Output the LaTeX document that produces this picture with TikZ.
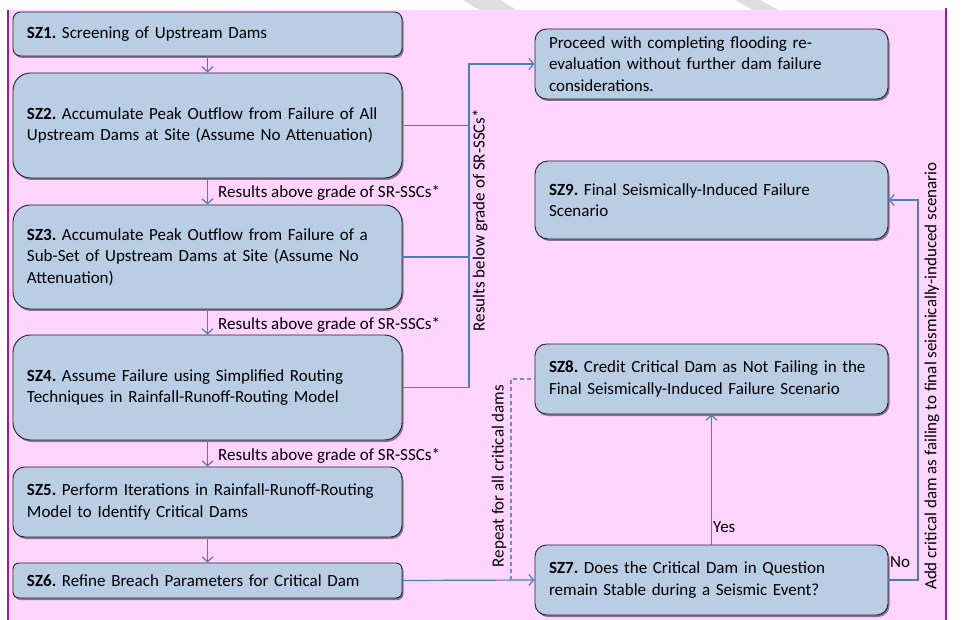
\documentclass[tikz,border=0pt]{standalone}
\usepackage{fontspec}
\setmainfont{Carlito}
\usetikzlibrary{arrows.meta,shadows}
\definecolor{pinkbg}{RGB}{255,212,255}
\definecolor{purpleln}{RGB}{150,30,150}
\definecolor{boxfill}{RGB}{185,205,229}
\definecolor{boxline}{RGB}{35,35,40}
\definecolor{conn}{RGB}{74,126,187}
\definecolor{wmark}{RGB}{222,222,222}
\frenchspacing
\begin{document}
\begin{tikzpicture}[x=1pt,y=-1pt,
  font=\fontsize{17}{21.3}\selectfont,
  box/.style={draw=boxline, line width=0.9pt, fill=boxfill, align=left,
    inner xsep=14pt, inner ysep=0pt, anchor=center,
    drop shadow={opacity=0.45, shadow xshift=1.5pt, shadow yshift=-2pt, fill=black}},
  lbox/.style={box, text width=361pt, minimum width=389pt},
  rbox/.style={box, text width=325pt, minimum width=353pt},
  conline/.style={draw=conn, line width=1.2pt},
  arr/.style={conline, -{Straight Barb[length=5pt,width=11pt,line width=1.2pt]}},
  dashline/.style={draw=conn!85, line width=1.2pt, dash pattern=on 4pt off 3pt},
  lbl/.style={inner sep=0pt, font=\fontsize{17}{20}\selectfont}
]
\useasboundingbox (0,0) rectangle (977,620);
% watermark stripes
\fill[wmark] (463,0) -- (500,0) -- (520,12) -- (483,12) -- cycle;
\fill[wmark] (735,0) -- (760,0) -- (782,12) -- (757,12) -- cycle;
% background
\fill[pinkbg] (8,10) rectangle (946,620);
\draw[purpleln, line width=1.2pt] (8,10) -- (8,620);
\draw[purpleln, line width=1.2pt] (946,8) -- (946,620);

% left column
\node[lbox, minimum height=44pt, rounded corners=7.5pt] (sz1) at (207.5,34)
  {\textbf{SZ1.} Screening of Upstream Dams};
\node[lbox, minimum height=105pt, rounded corners=17.5pt] (sz2) at (207.5,125.5)
  {\textbf{SZ2.} Accumulate Peak Outflow from Failure of All\\Upstream Dams at Site (Assume No Attenuation)};
\node[lbox, minimum height=104pt, rounded corners=17pt] (sz3) at (207.5,257)
  {\textbf{SZ3.} Accumulate Peak Outflow from Failure of a\\Sub-Set of Upstream Dams at Site (Assume No\\Attenuation)};
\node[lbox, minimum height=105pt, rounded corners=17.5pt] (sz4) at (207.5,387.5)
  {\textbf{SZ4.} Assume Failure using Simplified Routing\\Techniques in Rainfall-Runoff-Routing Model};
\node[lbox, minimum height=70pt, rounded corners=11.5pt] (sz5) at (207.5,502)
  {\textbf{SZ5.} Perform Iterations in Rainfall-Runoff-Routing\\Model to Identify Critical Dams};
\node[lbox, minimum height=35pt, rounded corners=6pt] (sz6) at (207.5,580.5)
  {\textbf{SZ6.} Refine Breach Parameters for Critical Dam};

% right column
\node[rbox, minimum height=70pt, rounded corners=11.5pt] (pr) at (711.5,64)
  {Proceed with completing flooding re-\\evaluation without further dam failure\\considerations.};
\node[rbox, minimum height=78pt, rounded corners=13pt] (sz9) at (711.5,200)
  {\textbf{SZ9.} Final Seismically-Induced Failure\\Scenario};
\node[rbox, minimum height=70pt, rounded corners=11.5pt] (sz8) at (711.5,379)
  {\textbf{SZ8.} Credit Critical Dam as Not Failing in the\\Final Seismically-Induced Failure Scenario};
\node[rbox, minimum height=70pt, rounded corners=11.5pt] (sz7) at (711.5,580)
  {\textbf{SZ7.} Does the Critical Dam in Question\\remain Stable during a Seismic Event?};

% coordinates
\coordinate (bus) at (469,64);
\coordinate (dash) at (511,580);
\coordinate (noc) at (918,580);

% vertical arrows
\draw[arr] (sz1.south) -- (sz2.north);
\draw[arr] (sz2.south) -- (sz3.north);
\draw[arr] (sz3.south) -- (sz4.north);
\draw[arr] (sz4.south) -- (sz5.north);
\draw[arr] (sz5.south) -- (sz6.north);

% results below grade bus
\draw[conline] (sz2.east) -- (sz2.east -| bus);
\draw[conline] (sz3.east) -- (sz3.east -| bus);
\draw[arr] (sz4.east) -- (sz4.east -| bus) -- (bus) -- (pr.west);

% SZ6 -> SZ7
\draw[arr] (sz6.east) -- (sz7.west);
% repeat dashed
\draw[dashline] (dash) -- (dash |- sz8.west) -- (sz8.west);
% yes
\draw[arr] (sz7.north) -- (sz8.south);
% no
\draw[arr] (sz7.east) -- (noc) -- (noc |- sz9.east) -- (sz9.east);

% labels
\node[lbl, anchor=west] (l1) at (218,193) {Results above grade of SR-SSCs*};
\node[lbl, anchor=west] (l2) at (218,325) {Results above grade of SR-SSCs*};
\node[lbl, anchor=west] (l3) at (218,456) {Results above grade of SR-SSCs*};
\node[lbl, rotate=90] (lb) at (480,220) {Results below grade of SR-SSCs*};
\node[lbl, rotate=90] (lr) at (499,476) {Repeat for all critical dams};
\node[lbl, rotate=90] (la) at (932,376) {Add critical dam as failing to final seismically-induced scenario};
\node[lbl, anchor=west] (ly) at (713,527) {Yes};
\node[lbl, anchor=west] (ln) at (890,562) {No};
\end{tikzpicture}
\end{document}
